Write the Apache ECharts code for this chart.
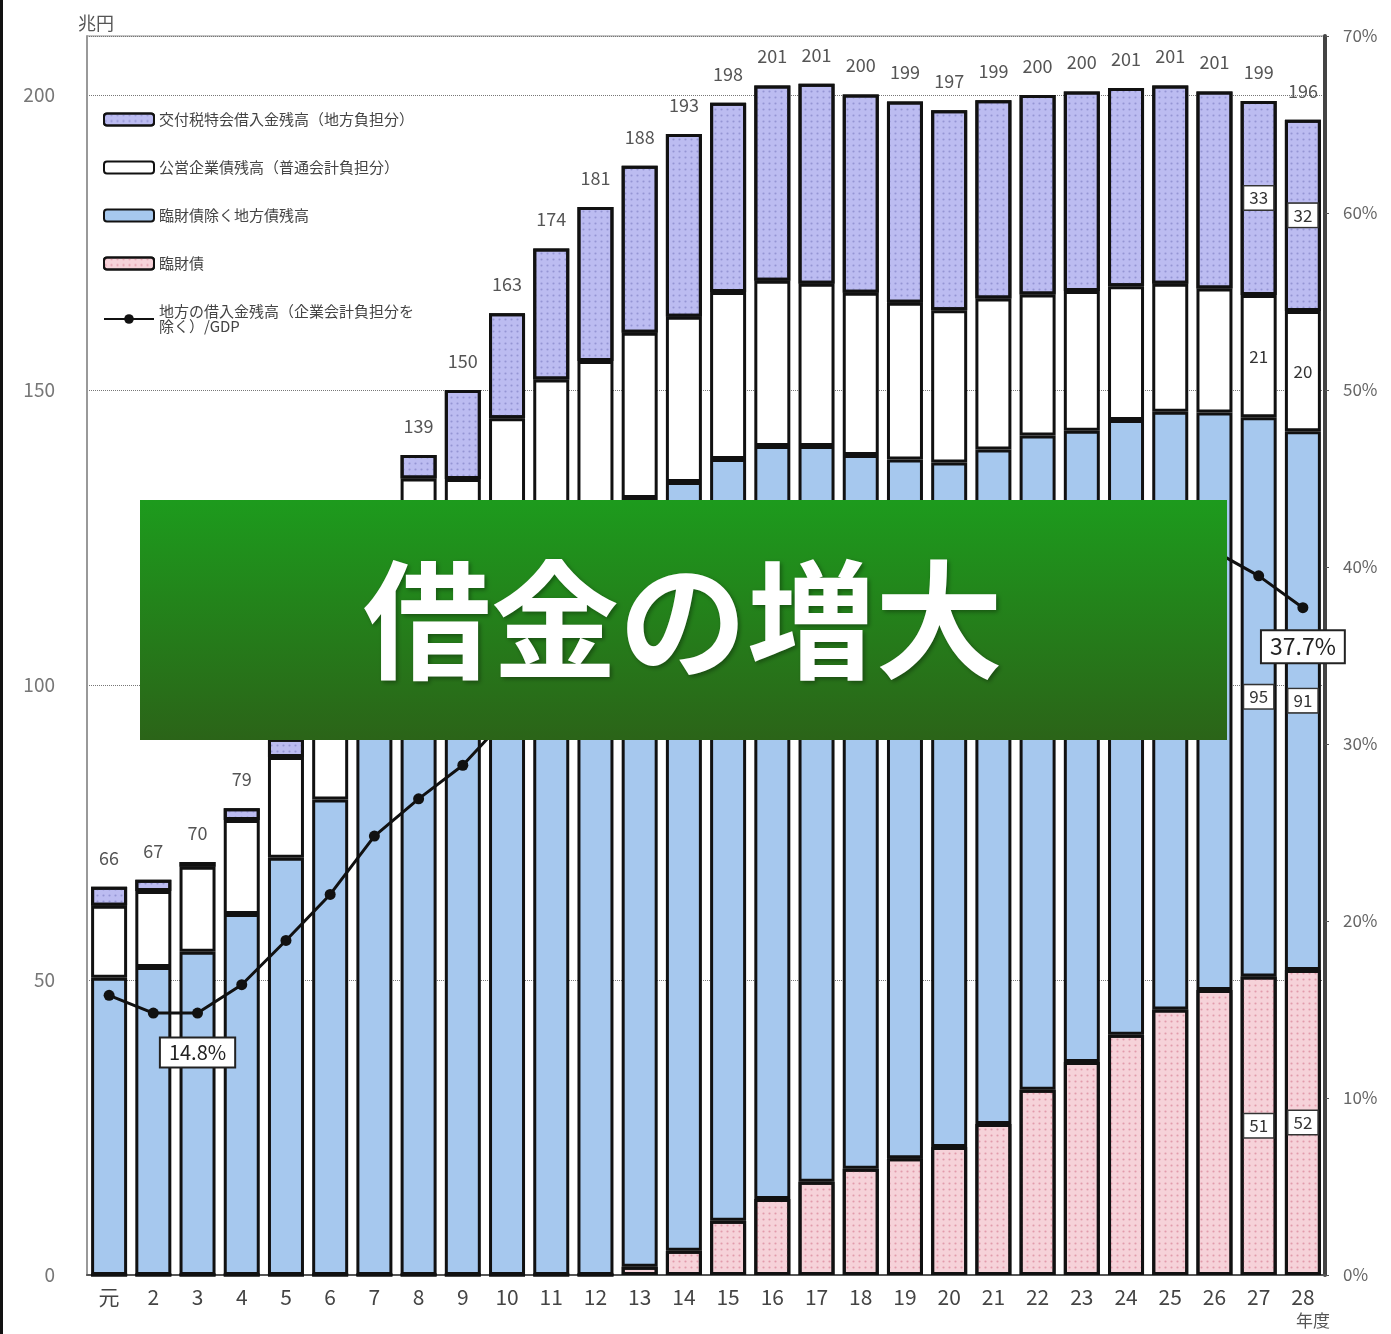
<!DOCTYPE html>
<html><head><meta charset="utf-8">
<script src="https://cdn.jsdelivr.net/npm/echarts@6/dist/echarts.min.js"></script>
<style>html,body{margin:0;padding:0;background:#fff}#c{width:1391px;height:1334px}</style>
</head><body><div id="c"></div>
<script>
const categories = ['元','2','3','4','5','6','7','8','9','10','11','12','13','14','15','16','17','18','19','20','21','22','23','24','25','26','27','28'];
const totals   = [66,67,70,79,91,106,125,139,150,163,174,181,188,193,198,201,201,200,199,197,199,200,200,201,201,201,199,196];
const rinzai   = [0,0,0,0,0,0,0,0,0,0,0,0,1.4,4.1,9.2,12.9,15.8,18.0,19.8,21.7,25.6,31.4,36.1,40.7,45.0,48.3,50.6,51.7];
const chihosai = [50.4,52.2,54.8,61.2,70.7,80.6,96.0,112.0,110.9,120.2,125.8,127.9,130.3,130.3,129.1,127.6,124.7,121.0,118.4,116.0,114.3,110.9,107.0,104.2,101.3,97.9,94.8,91.3];
const koei     = [12.2,12.9,14.4,15.9,17.1,19.4,21.0,23.0,24.0,25.0,26.0,27.0,28.0,28.0,28.3,28.0,27.5,27.5,26.6,25.8,25.6,23.9,23.7,22.7,21.7,21.0,20.7,20.4];
const kofuzei  = [3.2,1.9,0.8,2.0,3.1,6.0,8.0,4.0,15.1,17.8,22.2,26.1,28.3,31.0,32.1,33.1,33.9,33.6,34.1,33.9,33.6,33.8,33.8,33.6,33.6,33.4,32.9,32.4];
const gdpRatio = [15.8,14.8,14.8,16.4,18.9,21.5,24.8,26.9,28.8,31.5,34.5,36.0,38.3,39.4,40.1,40.3,39.9,39.3,38.8,40.2,42.0,41.6,42.2,42.4,41.7,40.9,39.5,37.7];
const boxedIdx = [26,27];
const ratioLabelIdx = [2,27];

const names = ['交付税特会借入金残高（地方負担分）','公営企業債残高（普通会計負担分）','臨財債除く地方債残高','臨財債','地方の借入金残高（企業会計負担分を除く）/GDP'];
const FF = '"Noto Sans CJK JP","Noto Sans",sans-serif';

function withBoxes(arr, boxed){
  return arr.map((v,i)=> boxedIdx.includes(i) ? {value:v, label:Object.assign({
      show:true, position:'inside', fontFamily:FF, fontSize:17, color:'#333',
      formatter:p=>String(Math.round(p.value))},
      boxed ? {backgroundColor:'#fff', borderColor:'#333', borderWidth:1.5, padding:[3,5]} : {})} : v);
}
const segStyle = (c, dot) => {
  const s = {color:c, borderColor:'#111', borderWidth:3};
  if (dot) s.decal = {symbol:'circle', symbolSize:0.7, dashArrayX:3, dashArrayY:3, color:dot};
  return s;
};

const chart = echarts.init(document.getElementById('c'));
chart.setOption({
  animation:false,
  backgroundColor:'#fff',
  grid:{left:87,right:66,top:36,bottom:59,show:true,borderColor:'#8a8a8a',borderWidth:1},
  legend:{
    orient:'vertical', left:98, top:107, itemWidth:50, itemHeight:12, itemGap:33,
    data:names, textStyle:{fontFamily:FF,fontSize:15,color:'#444'},
    formatter: n => n === names[4] ? '地方の借入金残高（企業会計負担分を\n除く）/GDP' : n
  },
  xAxis:{type:'category', data:categories,
    axisLine:{lineStyle:{color:'#555',width:2}}, axisTick:{show:false},
    axisLabel:{color:'#444',fontSize:21,margin:12,fontFamily:FF}},
  yAxis:[
    {type:'value',min:0,max:210,interval:50,
     axisLine:{show:true,lineStyle:{color:'#999',width:2}}, axisTick:{show:false},
     axisLabel:{color:'#777',fontSize:19,margin:32,fontFamily:FF,formatter:v=> v%50===0? String(v):''},
     splitLine:{show:true,lineStyle:{type:'dotted',color:'#777',width:1}}},
    {type:'value',min:0,max:70,interval:10,position:'right',
     axisLine:{show:true,lineStyle:{color:'#444',width:4}}, axisTick:{show:true,length:4,lineStyle:{color:'#555'}},
     axisLabel:{color:'#666',fontSize:17,margin:18,fontFamily:FF,formatter:'{value}%'},
     splitLine:{show:false}}
  ],
  series:[
    {name:names[3], type:'bar', stack:'s', barWidth:36, data:withBoxes(rinzai,true), itemStyle:segStyle('#f6d2d9','rgba(205,100,125,0.5)')},
    {name:names[2], type:'bar', stack:'s', barWidth:36, data:withBoxes(chihosai,true), itemStyle:segStyle('#a6c8ee')},
    {name:names[1], type:'bar', stack:'s', barWidth:36, data:withBoxes(koei,false), itemStyle:segStyle('#ffffff')},
    {name:names[0], type:'bar', stack:'s', barWidth:36, data:withBoxes(kofuzei,true), itemStyle:segStyle('#bcbcf1','rgba(90,90,170,0.4)')},
    {name:'total', type:'bar', stack:'s', barWidth:36, data:totals.map(()=>0), silent:true,
     itemStyle:{color:'transparent',borderWidth:0},
     label:{show:true,position:'top',distance:20,fontFamily:FF,fontSize:18,color:'#555',
       formatter:p=> String(totals[p.dataIndex])}},
    {name:names[4], type:'line', yAxisIndex:1, data:gdpRatio.map((v,i)=>{
        if(!ratioLabelIdx.includes(i)) return v;
        return {value:v,label:{show:true,position:'bottom',distance:i===2?20:18,
          formatter:p=>p.value.toFixed(1)+'%',fontFamily:FF,fontSize:i===2?20:23,color:'#222',
          backgroundColor:'#fff',borderColor:'#222',borderWidth:2,padding:[4,8]}};
      }),
     lineStyle:{color:'#111',width:3}, itemStyle:{color:'#111'}, symbol:'circle', symbolSize:11, z:5}
  ],
  graphic:[
    {type:'rect', left:0, top:0, shape:{width:3,height:1334}, style:{fill:'#111'}},
    {type:'text', left:78, top:14, style:{text:'兆円', font:'18px '+FF, fill:'#555'}},
    {type:'text', left:1296, top:1312, style:{text:'年度', font:'17px '+FF, fill:'#555'}},
    {type:'rect', zlevel:2, z:100, shape:{x:140,y:500,width:1087,height:240},
     style:{fill:new echarts.graphic.LinearGradient(0,0,0,1,[{offset:0,color:'#1d9b1d'},{offset:1,color:'#2b6418'}])}},
    {type:'text', zlevel:2, z:101, x:683, y:620, style:{text:'借金の増大', font:'bold 128px '+FF, fill:'#fff',
      align:'center', verticalAlign:'middle', textShadowColor:'rgba(0,0,0,0.35)', textShadowBlur:4, textShadowOffsetX:2, textShadowOffsetY:2}}
  ]
});
</script></body></html>
